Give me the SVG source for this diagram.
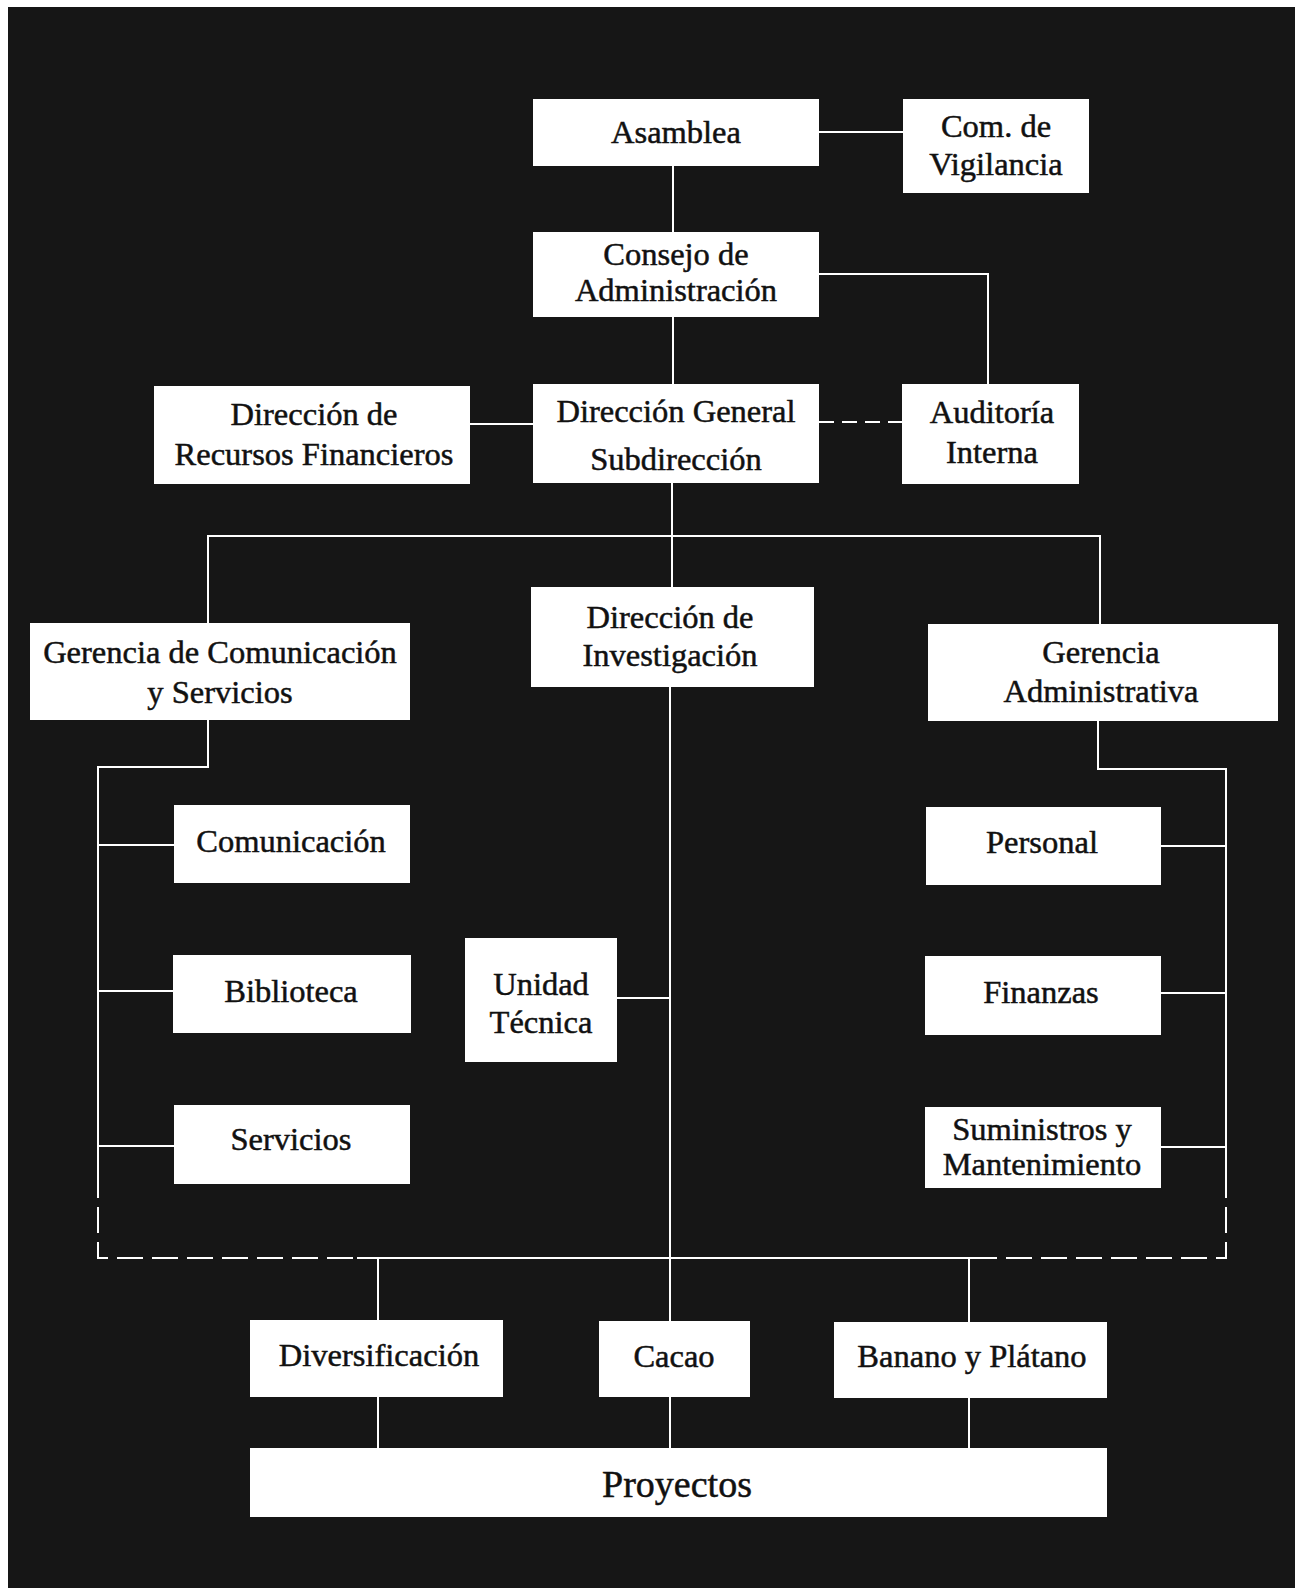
<svg xmlns="http://www.w3.org/2000/svg" width="1296" height="1588" viewBox="0 0 1296 1588">
<style>
.box{fill:#ffffff;}
.t{font-family:"Liberation Serif","Times New Roman",serif;font-size:32.5px;fill:#111111;stroke:#111111;stroke-width:0.5;text-anchor:middle;}
.big{font-size:38px;}
.ln{fill:none;stroke:#ffffff;stroke-width:2;}
.dash{fill:none;stroke:#ffffff;stroke-width:2;stroke-dasharray:26 9;}
.dash2{fill:none;stroke:#ffffff;stroke-width:2;stroke-dasharray:15 8;}
</style>
<rect x="0" y="0" width="1296" height="1588" fill="#ffffff"/>
<rect x="8" y="7" width="1287" height="1581" fill="#161616"/>
<g id="connectors">
<path class="ln" d="M819,132 H903"/>
<path class="ln" d="M673,166 V232"/>
<path class="ln" d="M819,274 H988 V384"/>
<path class="ln" d="M673,317 V384"/>
<path class="ln" d="M470,424 H533"/>
<path class="dash2" d="M819,422 H902"/>
<path class="ln" d="M672,483 V587"/>
<path class="ln" d="M208,623 V536 H1100 V624"/>
<path class="ln" d="M670,687 V1321"/>
<path class="ln" d="M617,998 H670"/>
<path class="ln" d="M208,720 V767 H98 V1172"/>
<path class="ln" d="M98,845 H174 M98,991 H173 M98,1146 H174"/>
<path class="dash" d="M98,1172 V1258 H357"/>
<path class="ln" d="M1098,721 V769 H1226 V1172"/>
<path class="ln" d="M1161,846 H1226 M1161,993 H1226 M1161,1147 H1226"/>
<path class="dash" d="M1226,1172 V1258 H995"/>
<path class="ln" d="M357,1258 H995"/>
<path class="ln" d="M378,1258 V1320 M969,1258 V1322"/>
<path class="ln" d="M378,1397 V1448 M670,1397 V1448 M969,1398 V1448"/>
</g>
<g id="asamblea"><rect class="box" x="533" y="99" width="286" height="67"/><text class="t" x="676" y="143">Asamblea</text></g>
<g id="com-vigilancia"><rect class="box" x="903" y="99" width="186" height="94"/><text class="t" x="996" y="137">Com. de</text><text class="t" x="996" y="175">Vigilancia</text></g>
<g id="consejo"><rect class="box" x="533" y="232" width="286" height="85"/><text class="t" x="676" y="265">Consejo de</text><text class="t" x="676" y="301">Administración</text></g>
<g id="dir-recursos"><rect class="box" x="154" y="386" width="316" height="98"/><text class="t" x="314" y="425">Dirección de</text><text class="t" x="314" y="465">Recursos Financieros</text></g>
<g id="dir-general"><rect class="box" x="533" y="384" width="286" height="99"/><text class="t" x="676" y="422">Dirección General</text><text class="t" x="676" y="470">Subdirección</text></g>
<g id="auditoria"><rect class="box" x="902" y="384" width="177" height="100"/><text class="t" x="992" y="423">Auditoría</text><text class="t" x="992" y="463">Interna</text></g>
<g id="ger-comunicacion"><rect class="box" x="30" y="623" width="380" height="97"/><text class="t" x="220" y="663">Gerencia de Comunicación</text><text class="t" x="220" y="703">y Servicios</text></g>
<g id="dir-investigacion"><rect class="box" x="531" y="587" width="283" height="100"/><text class="t" x="670" y="628">Dirección de</text><text class="t" x="670" y="666">Investigación</text></g>
<g id="ger-administrativa"><rect class="box" x="928" y="624" width="350" height="97"/><text class="t" x="1101" y="663">Gerencia</text><text class="t" x="1101" y="702">Administrativa</text></g>
<g id="comunicacion"><rect class="box" x="174" y="805" width="236" height="78"/><text class="t" x="291" y="852">Comunicación</text></g>
<g id="personal"><rect class="box" x="926" y="807" width="235" height="78"/><text class="t" x="1042" y="853">Personal</text></g>
<g id="biblioteca"><rect class="box" x="173" y="955" width="238" height="78"/><text class="t" x="291" y="1002">Biblioteca</text></g>
<g id="unidad-tecnica"><rect class="box" x="465" y="938" width="152" height="124"/><text class="t" x="541" y="995">Unidad</text><text class="t" x="541" y="1033">Técnica</text></g>
<g id="servicios"><rect class="box" x="174" y="1105" width="236" height="79"/><text class="t" x="291" y="1150">Servicios</text></g>
<g id="finanzas"><rect class="box" x="925" y="956" width="236" height="79"/><text class="t" x="1041" y="1003">Finanzas</text></g>
<g id="suministros"><rect class="box" x="925" y="1107" width="236" height="81"/><text class="t" x="1042" y="1140">Suministros y</text><text class="t" x="1042" y="1175">Mantenimiento</text></g>
<g id="diversificacion"><rect class="box" x="250" y="1320" width="253" height="77"/><text class="t" x="379" y="1366">Diversificación</text></g>
<g id="cacao"><rect class="box" x="599" y="1321" width="151" height="76"/><text class="t" x="674" y="1367">Cacao</text></g>
<g id="banano"><rect class="box" x="834" y="1322" width="273" height="76"/><text class="t" x="972" y="1367">Banano y Plátano</text></g>
<g id="proyectos"><rect class="box" x="250" y="1448" width="857" height="69"/><text class="t big" x="677" y="1497">Proyectos</text></g>
</svg>
